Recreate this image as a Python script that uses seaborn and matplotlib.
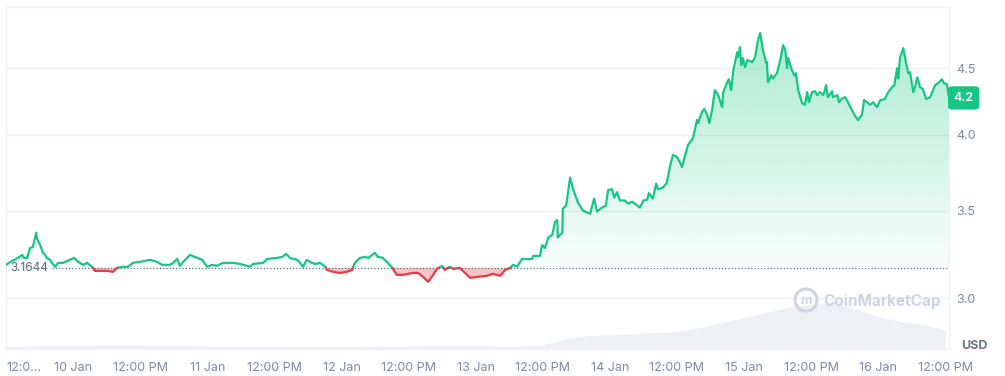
import numpy as np
import pandas as pd
import matplotlib
matplotlib.use('Agg')
import matplotlib.pyplot as plt
import seaborn as sns
from matplotlib.path import Path
from matplotlib.patches import Ellipse

# %%
# Price (USD), hours counted from 9 Jan 12:00 PM
hours = [0.0, 1.1, 2.1, 2.9, 3.2, 3.8, 4.3, 4.8, 5.4, 5.5, 6.1, 6.6, 7.0, 7.3, 7.9, 8.2, 8.8, 9.3,
         10.2, 11.4, 12.2, 12.9, 13.8, 14.5, 15.4, 15.9, 16.8, 18.1, 19.1, 19.9, 20.8, 21.8, 22.7,
         24.0, 25.8, 27.0, 27.9, 29.3, 29.9, 30.6, 31.1, 31.7, 32.9, 33.8, 35.1, 36.0, 36.9, 37.7,
         38.8, 40.6, 41.9, 43.1, 43.6, 44.2, 46.0, 46.7, 48.5, 49.4, 50.1, 50.8, 52.1, 52.6, 53.1,
         53.8, 54.7, 55.3, 56.2, 57.1, 57.4, 58.5, 59.7, 61.0, 61.9, 62.4, 63.3, 64.2, 64.8, 66.0,
         66.5, 67.4, 68.3, 69.1, 69.9, 71.0, 72.8, 73.7, 74.6, 75.5, 76.4, 77.1, 78.0, 78.5, 79.4,
         80.0, 81.2, 82.1, 83.0, 84.3, 86.0, 87.1, 88.4, 89.3, 90.2, 90.7, 91.4, 92.3, 94.1, 94.3,
         95.5, 95.9, 96.4, 97.0, 97.7, 98.2, 98.6, 98.7, 99.5, 99.6, 100.2, 100.9, 101.4, 102.3,
         103.2, 104.5, 105.2, 105.7, 106.6, 107.3, 107.7, 108.4, 108.8, 109.3, 109.8, 110.7, 111.3,
         112.0, 113.4, 114.0, 114.7, 115.0, 115.7, 116.3, 116.6, 117.5, 118.2, 118.8, 119.3, 120.0,
         120.6, 120.9, 121.5, 122.0, 122.4, 122.9, 123.6, 123.8, 124.5, 124.9, 125.4, 125.8, 126.3,
         126.8, 127.4, 128.1, 128.3, 129.0, 129.3, 129.7, 130.1, 130.8, 130.9, 131.3, 131.5, 131.8,
         132.2, 132.6, 133.5, 134.0, 134.5, 134.9, 135.4, 136.0, 136.1, 136.3, 136.9, 137.2, 137.9,
         138.5, 139.0, 139.4, 139.7, 139.9, 140.6, 141.0, 141.3, 141.7, 142.4, 142.9, 143.3, 143.6,
         144.2, 144.7, 145.1, 145.6, 146.2, 146.7, 147.0, 147.8, 147.9, 148.7, 149.0, 149.6, 150.1,
         150.6, 151.3, 151.9, 152.4, 153.1, 153.5, 154.0, 154.6, 155.1, 155.8, 156.4, 157.2, 157.8,
         158.5, 158.9, 159.4, 159.6, 159.9, 160.5, 161.0, 161.4, 161.7, 162.3, 162.6, 163.0, 163.5,
         164.0, 164.6, 165.3, 166.2, 166.7, 167.4, 167.8, 168.3, 168.7]
price = [3.181, 3.203, 3.220, 3.237, 3.220, 3.220, 3.277, 3.283, 3.366, 3.334, 3.294, 3.249, 3.237,
         3.220, 3.209, 3.192, 3.170, 3.192, 3.192, 3.209, 3.220, 3.198, 3.181, 3.192, 3.170, 3.147,
         3.147, 3.147, 3.142, 3.164, 3.170, 3.170, 3.192, 3.198, 3.209, 3.198, 3.181, 3.181, 3.192,
         3.214, 3.175, 3.198, 3.237, 3.226, 3.209, 3.170, 3.181, 3.175, 3.192, 3.192, 3.186, 3.175,
         3.170, 3.186, 3.192, 3.214, 3.220, 3.226, 3.243, 3.220, 3.209, 3.192, 3.170, 3.209, 3.192,
         3.186, 3.192, 3.170, 3.153, 3.142, 3.136, 3.142, 3.153, 3.192, 3.220, 3.226, 3.220, 3.249,
         3.226, 3.220, 3.192, 3.164, 3.125, 3.125, 3.136, 3.136, 3.114, 3.087, 3.125, 3.158, 3.175,
         3.153, 3.170, 3.158, 3.164, 3.136, 3.109, 3.114, 3.120, 3.131, 3.120, 3.153, 3.164, 3.181,
         3.170, 3.214, 3.214, 3.231, 3.231, 3.294, 3.277, 3.339, 3.353, 3.431, 3.442, 3.339, 3.366,
         3.512, 3.531, 3.710, 3.639, 3.550, 3.500, 3.481, 3.575, 3.494, 3.519, 3.531, 3.629, 3.635,
         3.581, 3.616, 3.563, 3.563, 3.544, 3.556, 3.519, 3.563, 3.569, 3.610, 3.575, 3.671, 3.635,
         3.645, 3.677, 3.789, 3.861, 3.848, 3.807, 3.780, 3.861, 3.930, 3.951, 3.979, 4.107, 4.085,
         4.166, 4.187, 4.145, 4.085, 4.180, 4.329, 4.291, 4.201, 4.314, 4.390, 4.413, 4.329, 4.484,
         4.629, 4.589, 4.670, 4.524, 4.581, 4.508, 4.565, 4.549, 4.589, 4.728, 4.787, 4.646, 4.541,
         4.549, 4.390, 4.444, 4.420, 4.460, 4.565, 4.687, 4.646, 4.500, 4.581, 4.484, 4.444, 4.460,
         4.329, 4.231, 4.218, 4.314, 4.238, 4.314, 4.321, 4.291, 4.314, 4.291, 4.367, 4.276, 4.321,
         4.276, 4.291, 4.238, 4.268, 4.276, 4.238, 4.180, 4.135, 4.107, 4.145, 4.254, 4.238, 4.218,
         4.238, 4.201, 4.254, 4.261, 4.314, 4.352, 4.367, 4.500, 4.420, 4.581, 4.662, 4.541, 4.460,
         4.468, 4.314, 4.352, 4.428, 4.352, 4.337, 4.261, 4.276, 4.367, 4.382, 4.413, 4.382, 4.375,
         4.270]

# Volume (relative), every 4 hours
vol_hours = list(range(0, 169, 4))
volume = [3, 3, 3.5, 3.5, 4, 4, 4, 3.5, 3.5, 3, 3, 3, 3, 2.5, 2.5, 2.5, 2.5, 3, 3, 3.5, 3.5, 3.5,
          3, 3, 4, 10, 13, 14, 15, 16, 17, 21, 26, 31, 36, 41, 44, 46, 39, 32, 27, 24, 19]

base_price = 3.1644
base_label = '3.1644'
last_label = '4.2'
xtick_hours = [0, 12, 24, 36, 48, 60, 72, 84, 96, 108, 120, 132, 144, 156, 168]
xtick_labels = ['12:0...', '10 Jan', '12:00 PM', '11 Jan', '12:00 PM', '12 Jan', '12:00 PM',
                '13 Jan', '12:00 PM', '14 Jan', '12:00 PM', '15 Jan', '12:00 PM', '16 Jan', '12:00 PM']
ytick_vals = [3.0, 3.5, 4.0, 4.5]
ytick_labels = ['3.0', '3.5', '4.0', '4.5']

GREEN = '#16c784'
RED = '#ea3943'
GRID = '#eff2f5'
TXT = '#808a9d'

# %%
# Split line at the baseline so each side gets its own colour
h = np.array(hours)
p = np.array(price)
xs, ys = [h[0]], [p[0]]
for i in range(1, len(h)):
    a, b = p[i - 1] - base_price, p[i] - base_price
    if a * b < 0:
        t = a / (a - b)
        xs.append(h[i - 1] + t * (h[i] - h[i - 1]))
        ys.append(base_price)
    xs.append(h[i])
    ys.append(p[i])
xs, ys = np.array(xs), np.array(ys)

segs = [[(xs[0], ys[0])]]
for x, y in zip(xs[1:], ys[1:]):
    segs[-1].append((x, y))
    if y == base_price:
        segs.append([(x, y)])
rows = []
for k, s in enumerate(segs):
    side = 'up' if max(v for _, v in s) > base_price else 'down'
    rows += [(x, y, k, side) for x, y in s]
df = pd.DataFrame(rows, columns=['hour', 'price', 'seg', 'side'])

# %%
sns.set_theme(style='white')
plt.rcParams['font.family'] = ['Inter', 'DejaVu Sans']

fig = plt.figure(figsize=(10.05, 3.76), dpi=100)
rect = [0.006, 0.0718, 0.9384, 0.9096]
axv = fig.add_axes(rect)
ax = fig.add_axes(rect)
ax.patch.set_visible(False)

xmax = hours[-1]

# volume
axv.fill_between(vol_hours, volume, 0, color='#eef0f4', linewidth=0)
axv.set_xlim(0, xmax)
axv.set_ylim(0, max(volume) * 7.3)
axv.axis('off')

# price
ax.set_yscale('log')
ax.set_xlim(0, xmax)
ax.set_ylim(2.742, 5.013)

ax.fill_between(xs, ys, base_price, where=ys <= base_price, color=RED, alpha=0.3, linewidth=0, zorder=2)
poly = ax.fill_between(xs, ys, base_price, where=ys >= base_price, facecolor='none', linewidth=0)
clip = Path.make_compound_path(*poly.get_paths())

yy = np.linspace(0, 1, 256)
alpha = np.clip((yy - 0.2376) / (0.95 - 0.2376), 0, 1) * 0.34 + 0.03
grad = np.zeros((256, 1, 4))
grad[..., :3] = matplotlib.colors.to_rgb(GREEN)
grad[:, 0, 3] = alpha
im = ax.imshow(grad, extent=[0, 1, 0, 1], transform=ax.transAxes, aspect='auto',
               origin='lower', zorder=2)
im.set_clip_path(clip, transform=ax.transData)
ax.set_xlim(0, xmax)
ax.set_ylim(2.742, 5.013)

sns.lineplot(data=df, x='hour', y='price', units='seg', estimator=None, hue='side',
             palette={'up': GREEN, 'down': RED}, linewidth=1.6, legend=False, sort=False,
             ax=ax, zorder=4)

ax.hlines(base_price, 8.3, xmax - 0.3, colors='#616e85', linestyles=(0, (1, 1.6)), linewidth=0.9, zorder=3)
ax.text(0.7, base_price, base_label, ha='left', va='center', fontsize=8.5, color='#58667e', zorder=5)

# axes styling
ax.set_xlabel('')
ax.set_ylabel('')
ax.yaxis.tick_right()
ax.yaxis.set_minor_locator(matplotlib.ticker.NullLocator())
ax.set_yticks(ytick_vals, ytick_labels)
ax.set_xticks(xtick_hours, xtick_labels)
ax.get_xticklabels()[0].set_horizontalalignment('left')
ax.tick_params(length=0, labelsize=9, labelcolor=TXT)
ax.tick_params(axis='x', pad=9)
ax.tick_params(axis='y', pad=5)
ax.grid(axis='y', color=GRID, linewidth=1)
ax.set_axisbelow(True)
for sp in ax.spines.values():
    sp.set_color(GRID)
    sp.set_linewidth(1)

# last price tag
ax.annotate(last_label, xy=(1.0, price[-1]), xycoords=('axes fraction', 'data'),
            xytext=(10.5, 0), textcoords='offset points', ha='center', va='center',
            fontsize=9, color='white', fontweight='semibold', zorder=6,
            bbox=dict(boxstyle='round,pad=0.45,rounding_size=0.3', fc=GREEN, ec='none'),
            annotation_clip=False)

fig.text(961 / 1005, 1 - 346 / 376, 'USD', ha='left', va='center', fontsize=9,
         fontweight='bold', color='#6b7385')

# watermark
wm = '#cfd5e0'
fig.patches.append(Ellipse((806 / 1005, 1 - 300 / 376), 22 / 1005, 22 / 376, fill=False,
                           ec=wm, lw=2.2, transform=fig.transFigure, figure=fig))
fig.text(806 / 1005, 1 - 301 / 376, 'm', ha='center', va='center', fontsize=9,
         fontweight='bold', color=wm)
fig.text(823 / 1005, 1 - 301 / 376, 'CoinMarketCap', ha='left', va='center', fontsize=11,
         fontweight='bold', color=wm)

fig.savefig('out.png', dpi=100)
